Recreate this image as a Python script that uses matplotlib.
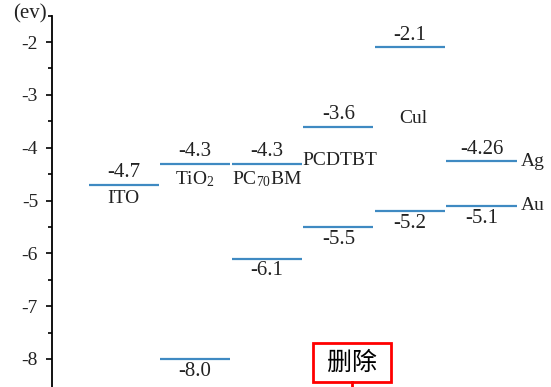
import matplotlib.pyplot as plt
from matplotlib.patches import Rectangle
from matplotlib.lines import Line2D

# energy levels (eV), one column per material
columns = ['ITO', 'TiO2', 'PC70BM', 'PCDTBT', 'CuI', 'Ag/Au']
upper = [-4.7, -4.3, -4.3, -3.6, -2.1, -4.26]
lower = [None, -8.0, -6.1, -5.5, -5.2, -5.1]
upper_txt = ['-4.7', '-4.3', '-4.3', '-3.6', '-2.1', '-4.26']
lower_txt = [None, '-8.0', '-6.1', '-5.5', '-5.2', '-5.1']
yticks = [-2, -3, -4, -5, -6, -7, -8]

plt.rcParams['font.family'] = ['Liberation Serif', 'DejaVu Serif']
plt.rcParams['mathtext.default'] = 'regular'

W, H = 551, 387
fig = plt.figure(figsize=(W / 100, H / 100), dpi=100)
ax = fig.add_axes([52 / W, 0, 1 - 52 / W, 1])
ax.set_xlim(-1.0, 5.97)
ax.set_ylim(-8.53, -1.205)

blue = '#3f8ac2'
fs = 15
fn = 14
for i in range(len(columns)):
    ax.hlines(upper[i], i - 0.49, i + 0.49, color=blue, lw=1.6)
    ax.annotate(upper_txt[i], (i, upper[i]), xytext=(0, 2), textcoords='offset points',
                ha='center', va='bottom', fontsize=fs, color='#222222')
    if lower[i] is not None:
        ax.hlines(lower[i], i - 0.49, i + 0.49, color=blue, lw=1.6)
        ax.annotate(lower_txt[i], (i, lower[i]), xytext=(0, -2), textcoords='offset points',
                    ha='center', va='top', fontsize=fs, color='#222222')

# material names
ax.annotate('ITO', (0, upper[0]), xytext=(0, -4), textcoords='offset points',
            ha='center', va='top', fontsize=fn, color='#222222')
ax.annotate('TiO$_2$', (1, upper[1]), xytext=(0, -4), textcoords='offset points',
            ha='center', va='top', fontsize=fn, color='#222222')
ax.annotate('PC$_{70}$BM', (2, upper[2]), xytext=(0, -4), textcoords='offset points',
            ha='center', va='top', fontsize=fn, color='#222222')
ax.text(2.5, -4.25, 'PCDTBT', ha='left', va='center', fontsize=fn, color='#222222')
ax.text(4.05, -3.45, 'Cul', ha='center', va='center', fontsize=fn, color='#222222')
ax.annotate('Ag', (5.49, upper[5]), xytext=(3, 0), textcoords='offset points',
            ha='left', va='center', fontsize=fn, color='#222222')
ax.annotate('Au', (5.49, lower[5]), xytext=(3, 0), textcoords='offset points',
            ha='left', va='center', fontsize=fn, color='#222222')

# axis styling
for s in ['top', 'right', 'bottom']:
    ax.spines[s].set_visible(False)
ax.spines['left'].set_bounds(-8.53, -1.5)
ax.spines['left'].set_linewidth(1.3)
ax.set_xticks([])
ax.set_yticks(yticks)
ax.set_yticklabels([str(t) for t in yticks])
ax.set_yticks([-1.5, -2.5, -3.5, -4.5, -5.5, -6.5, -7.5], minor=True)
ax.tick_params(axis='y', which='major', length=4, width=1.2, labelsize=fn, pad=6,
               labelcolor='#222222')
ax.tick_params(axis='y', which='minor', length=3, width=1.2)
ax.annotate('(ev)', (-1.0, -1.5), xytext=(-4, 1), textcoords='offset points',
            ha='right', va='center', fontsize=15, color='#222222', annotation_clip=False)

# red "删除" box overlay
fig.patches.append(Rectangle((313 / W, 1 - 382 / H), 78 / W, 39 / H, transform=fig.transFigure,
                             fill=True, facecolor='white', edgecolor='#ff0000', lw=2))
fig.text(352 / W, 1 - 362.5 / H, '删除', ha='center', va='center', fontsize=18,
         family=['Noto Sans CJK SC', 'DejaVu Sans'])
fig.lines.append(Line2D([352 / W, 352 / W], [1 - 382 / H, 0], transform=fig.transFigure,
                        color='#ff0000', lw=2))

fig.savefig('out.png', dpi=100)
